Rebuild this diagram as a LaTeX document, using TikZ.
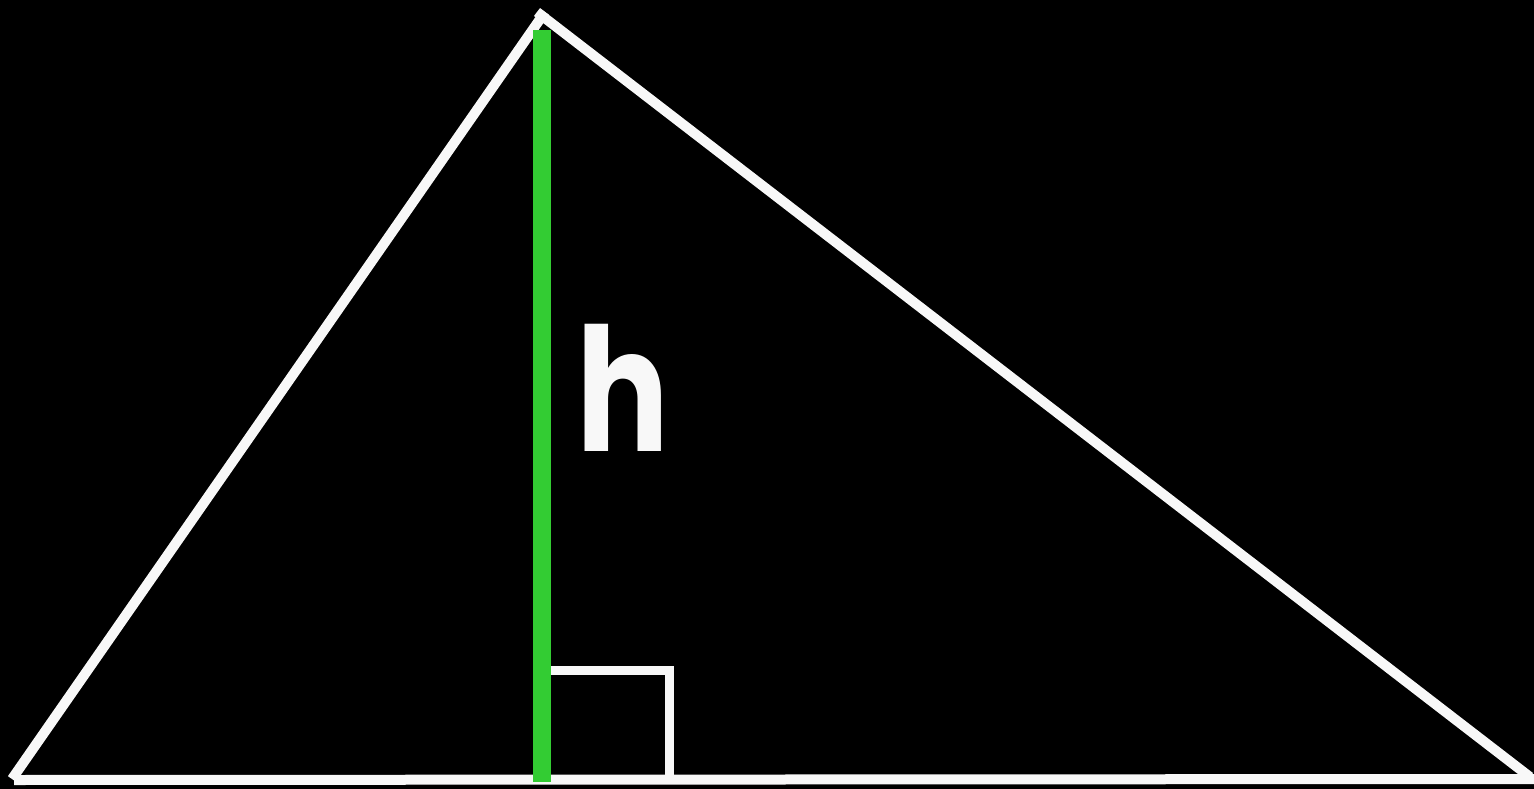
\documentclass[tikz,border=0pt]{standalone}
\usepackage{fontspec}
\newfontfamily\hfont{Poppins}
\usetikzlibrary{positioning}
\definecolor{cwhite}{HTML}{F8F8F8}
\definecolor{cgreen}{HTML}{33CC33}
\tikzset{
  every picture/.style={x=1pt, y=-1pt},
  side/.style={draw=cwhite, line width=10pt, line cap=butt},
  height/.style={draw=cgreen, line width=18pt, line cap=butt},
  rightangle/.style={draw=cwhite, line width=9pt, line join=miter},
  lab/.style={text=cwhite, font=\hfont\bfseries\fontsize{172}{172}\selectfont, inner sep=0pt, xscale=0.8},
}

\begin{document}
\begin{tikzpicture}
  % background
  \fill[black] (0,0) rectangle (1534,789);
  \useasboundingbox (0,0) rectangle (1534,789);
  % vertices
  \coordinate (A) at (12,779);
  \coordinate (B) at (1534,779);
  \coordinate (C) at (541,12);
  \coordinate (A0) at (14,780);
  \coordinate (Cl) at (537,12);
  \coordinate (Cr) at (545,12);
  \coordinate (Br) at (1530,777);
  % foot of the height
  \coordinate (H) at (542,782);
  \coordinate (Htop) at (542,30);
  % right angle mark
  \coordinate (R1) at (546,670);
  \coordinate (R2) at (669.5,670);
  \coordinate (R3) at (669.5,780);
  % triangle
  \draw[side] (A) -- (Cr);
  \draw[side] (Cl) -- (Br);
  \draw[side] (A0) -- (B);
  \draw[rightangle] (R1) -- (R2) -- (R3);
  % height
  \draw[height] (Htop) -- (H);
  \node[lab] (h) at (623,388) {h};
\end{tikzpicture}
\end{document}
